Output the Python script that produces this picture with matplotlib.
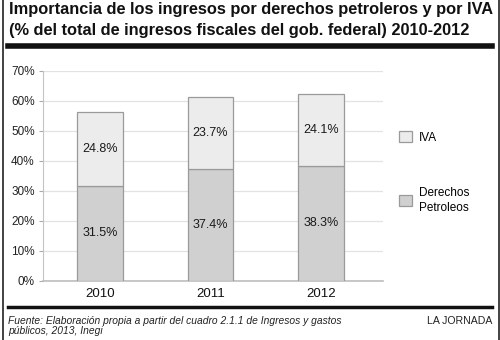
import matplotlib
matplotlib.use('Agg')
import matplotlib.pyplot as plt
from matplotlib.lines import Line2D
import numpy as np

# DATOS
anios = ['2010', '2011', '2012']
derechos = [31.5, 37.4, 38.3]
iva = [24.8, 23.7, 24.1]
yticks = [0, 10, 20, 30, 40, 50, 60, 70]

plt.rcParams['font.family'] = ['Liberation Sans', 'DejaVu Sans']

W, H = 500, 340
fig = plt.figure(figsize=(W / 100, H / 100), dpi=100)

def fx(px):
    return px / W

def fy(py):
    return 1 - py / H

# area del grafico
ax = fig.add_axes([fx(43), fy(280.7), fx(383 - 43), fy(70.7) - fy(280.7)])
x = np.arange(len(anios))
ancho = 0.41
c_der = '#d0d0d0'
c_iva = '#ececec'
borde = '#9a9a9a'

b1 = ax.bar(x, derechos, ancho, color=c_der, edgecolor=borde, linewidth=0.9,
            label='Derechos\nPetroleos', zorder=3)
b2 = ax.bar(x, iva, ancho, bottom=derechos, color=c_iva, edgecolor=borde,
            linewidth=0.9, label='IVA', zorder=3)

# etiquetas de valores
for i in range(len(anios)):
    ax.text(x[i], derechos[i] / 2, f'{derechos[i]:.1f}%', ha='center', va='center',
            fontsize=9, color='#1a1a1a', zorder=4)
    ax.text(x[i], derechos[i] + iva[i] / 2, f'{iva[i]:.1f}%', ha='center', va='center',
            fontsize=9, color='#1a1a1a', zorder=4)

ax.set_xlim(-0.515, 2.56)
ax.set_ylim(0, 70)
ax.set_yticks(yticks)
ax.set_yticklabels([f'{v}%' for v in yticks], fontsize=8.5, color='#222222')
ax.set_xticks(x)
ax.set_xticklabels(anios, fontsize=9.5, color='#111111')
ax.tick_params(axis='x', length=0, pad=5)
ax.tick_params(axis='y', length=3, width=0.8, color='#aaaaaa', pad=3)
ax.grid(axis='y', color='#e2e2e2', linewidth=0.9, zorder=0)
for s in ['top', 'right']:
    ax.spines[s].set_visible(False)
ax.spines['left'].set_color('#c4c4c4')
ax.spines['bottom'].set_color('#bdbdbd')
ax.spines['bottom'].set_linewidth(1.2)

# leyenda
handles = [b2, b1]
leg = fig.legend(handles, ['IVA', 'Derechos\nPetroleos'], loc='upper left',
                 bbox_to_anchor=(fx(399), fy(131)), frameon=False, fontsize=8.5,
                 handlelength=1.1, handleheight=1.1, handletextpad=0.6,
                 labelspacing=3.65, borderpad=0, borderaxespad=0)
for t in leg.get_texts():
    t.set_linespacing(1.35)

# titulo
fig.text(fx(9), fy(14), 'Importancia de los ingresos por derechos petroleros y por IVA',
         fontsize=11.8, fontweight='bold', color='#111111', va='baseline')
fig.text(fx(9), fy(34.5), '(% del total de ingresos fiscales del gob. federal) 2010-2012',
         fontsize=11.8, fontweight='bold', color='#111111', va='baseline')

# lineas de marco y reglas
fig.add_artist(Line2D([fx(8), fx(492)], [fy(45.5), fy(45.5)], color='#111111', linewidth=4))
fig.add_artist(Line2D([fx(8), fx(492)], [fy(306.7), fy(306.7)], color='#111111', linewidth=2.5))
fig.add_artist(Line2D([fx(3), fx(3)], [0, 1], color='#222222', linewidth=1.2))
fig.add_artist(Line2D([fx(498.5), fx(498.5)], [0, 1], color='#222222', linewidth=1.2))

# pie
fig.text(fx(8.5), fy(324.3), 'Fuente: Elaboración propia a partir del cuadro 2.1.1 de Ingresos y gastos',
         fontsize=7.35, style='italic', color='#222222', va='baseline')
fig.text(fx(8.5), fy(334.5), 'públicos, 2013, Inegi',
         fontsize=7.35, style='italic', color='#222222', va='baseline')
fig.text(fx(492.5), fy(324.3), 'LA JORNADA', fontsize=7.6, color='#222222',
         ha='right', va='baseline')

fig.savefig('out.png', dpi=100)
